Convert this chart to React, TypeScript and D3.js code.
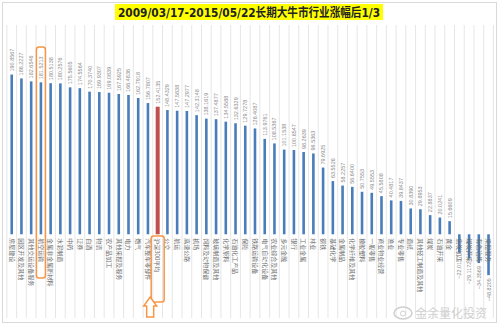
import React from "react";
import * as d3 from "d3";

const titleText = "2009/03/17-2015/05/22长期大牛市行业涨幅后1/3";

const categories = [
  "房屋建设", "园区开发及其他", "其他交运设备服务", "航空运输", "金属非金属新材料",
  "水泥制造", "中药", "证券", "白酒", "物流",
  "农产品加工", "其他采掘及服务", "电力", "燃气", "汽车整车零部件",
  "沪深300平均", "公交", "航运", "高速公路", "机场",
  "饲料及动物保健", "玻璃制造及其他", "化学原料", "石油化工产品", "保险",
  "铁路运输设备", "电气自动化设备", "农业综合及其他", "多元金融", "银行",
  "工业金属", "林业", "钢铁", "基础化学", "金属制品",
  "化学纤维及其他", "橡胶塑料", "一般零售", "商业物业经营", "渔业",
  "专业零售", "造纸", "其他轻工制造及其他", "煤炭", "石油开采",
  "黄金", "焦炭加工", "煤炭开采", "有色冶炼", "采掘服务",
];

const values = [
  190.8567, 186.2227, 182.6546, 181.5213, 180.5138,
  180.2576, 175.5605, 174.5564, 170.374, 169.9307,
  169.0839, 167.5925, 166.4836, 162.7918, 156.7807,
  152.4135, 148.4329, 147.5838, 147.2977, 142.3148,
  138.1619, 137.4877, 134.5588, 132.6329, 129.7278,
  126.4087, 113.9761, 108.5367, 101.1538, 100.6547,
  98.2639, 96.5363, 79.6925, 63.5526, 58.2257,
  56.64, 50.7553, 49.5553, 45.5808, 40.4817,
  39.8437, 30.839, 29.8953, 22.8837, 20.0241,
  15.6609, -22.0157, -29.1172, -34.3569, -48.8205,
];

const highlightIndex = 15;
const boxedIndex = 3;
const yDomain = [-100, 250];

export default function App() {
  const W = 499;
  const H = 325;
  const x = d3.scaleBand<string>().domain(categories).range([6.85, 493.4]).padding(0);
  const y = d3.scaleLinear().domain(yDomain).range([318, 25]);
  const y0 = y(0);
  const bounds = [...categories.map((c) => x(c) as number), 493.4];
  const fmt = (v: number) => d3.format(".4f")(v);

  const bx = (i: number) => (x(categories[i]) as number) + x.bandwidth() / 2;
  const ax = bx(highlightIndex) - 7.5;

  return (
    <svg width={W} height={H} style={{ position: "absolute", left: 0, top: 0, background: "#fff" }}>
      <rect x={0} y={0} width={W} height={H} fill="#ffffff" />
      <rect x={2.5} y={2.5} width={494} height={320} fill="none" stroke="#d9d9d9" />
      {bounds.map((b, i) => (
        <line key={"g" + i} x1={b} x2={b} y1={25} y2={318} stroke="#e6e6e6" strokeWidth={1} />
      ))}
      <rect x={115} y={4} width={268} height={16} fill="#ffff00" />
      <text
        x={249}
        y={16.5}
        textAnchor="middle"
        fontSize={12}
        fontWeight="bold"
        fill="#222"
        fontFamily="'DejaVu Sans', 'Noto Sans CJK SC', sans-serif"
        textLength={262}
        lengthAdjust="spacingAndGlyphs"
      >
        {titleText}
      </text>
      {values.map((v, i) => {
        const cx = bx(i);
        const w = i === highlightIndex ? 4 : 2.6;
        const top = Math.min(y(v), y0);
        const h = Math.abs(y(v) - y0);
        return (
          <rect
            key={"b" + i}
            x={cx - w / 2}
            y={top}
            width={w}
            height={h}
            fill={i === highlightIndex ? "#c0504d" : "#4a7ebb"}
          />
        );
      })}
      {values.map((v, i) => {
        const cx = bx(i) + 2;
        const yy = v >= 0 ? y(v) - 3 : y(v) + 3;
        return (
          <text
            key={"v" + i}
            transform={`translate(${cx},${yy}) rotate(-90)`}
            textAnchor={v >= 0 ? "start" : "end"}
            fontSize={5.5}
            fill="#8c8c8c"
            fontFamily="'Liberation Sans', sans-serif"
          >
            {fmt(v)}
          </text>
        );
      })}
      {categories.map((c, i) => {
        const cx = bx(i) - 2.2;
        return (
          <text
            key={"c" + i}
            transform={`translate(${cx},${y0 + 4}) rotate(90)`}
            textAnchor="start"
            fontSize={6}
            fill="#6e6e6e"
            fontFamily="'Noto Sans CJK SC', sans-serif"
          >
            {c}
          </text>
        );
      })}
      <rect
        x={bx(boxedIndex) - 4.5}
        y={47}
        width={9}
        height={231}
        rx={2.5}
        fill="none"
        stroke="#f79646"
        strokeWidth={1.5}
      />
      <rect
        x={bx(highlightIndex) - 6.5}
        y={236}
        width={13}
        height={66}
        rx={2.5}
        fill="none"
        stroke="#f79646"
        strokeWidth={1.5}
      />
      <path
        d={`M${ax},297 L${ax + 6.5},306 L${ax + 3.5},306 L${ax + 3.5},317 L${ax - 3.5},317 L${ax - 3.5},306 L${ax - 6.5},306 Z`}
        fill="#ffffff"
        stroke="#f79646"
        strokeWidth={1.5}
      />
      <ellipse cx={403} cy={313} rx={9} ry={6} fill="none" stroke="#cfcfcf" strokeWidth={1.5} />
      <circle cx={403} cy={313.5} r={2.5} fill="none" stroke="#cfcfcf" strokeWidth={1} />
      <text x={415} y={318} fontSize={12} fill="#cfcfcf" fontFamily="'Noto Sans CJK SC', sans-serif">
        金余量化投资
      </text>
    </svg>
  );
}
